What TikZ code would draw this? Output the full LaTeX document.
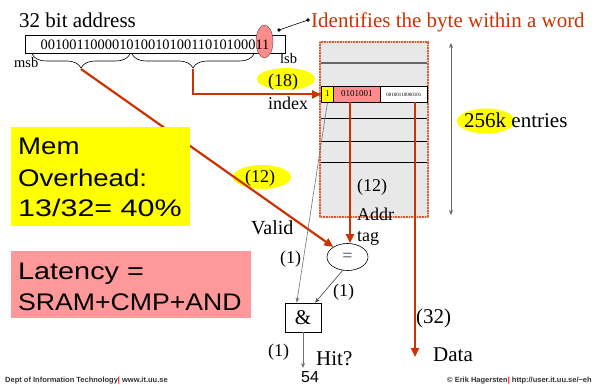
\documentclass[tikz,border=0pt]{standalone}
\usepackage{fontspec}
\setmainfont{Liberation Serif}
\newfontfamily\notefont{Liberation Sans}
\usetikzlibrary{arrows.meta,decorations.pathreplacing,shapes.geometric,calc}

\definecolor{wirered}{RGB}{204,51,0}
\definecolor{hlyellow}{RGB}{255,255,0}
\definecolor{notepink}{RGB}{255,153,153}
\definecolor{cellpink}{RGB}{255,140,140}
\definecolor{tablegray}{RGB}{232,232,232}

\newcommand\sizeL{\fontsize{21}{25}\selectfont}
\newcommand\sizeM{\fontsize{18}{22}\selectfont}
\newcommand\sizeS{\fontsize{14.5}{17}\selectfont}
\newcommand\sizeN{\fontsize{24}{30}\selectfont}
\newcommand\stretched[2]{\scalebox{#1}[1]{#2}}

\begin{document}
\begin{tikzpicture}[x=1pt,y=-1pt,
  txt/.style={anchor=base west,inner sep=0pt},
  hl/.style={ellipse,fill=hlyellow,inner sep=0pt},
  wire/.style={draw=wirered,line width=2.2pt},
  wiretip/.style={wire,-{Triangle[length=9pt,width=8pt]}},
  thinarrow/.style={draw=black!75,line width=0.6pt,-{Stealth[length=5pt,width=4pt]}},
  cell/.style={draw=black,line width=0.8pt,anchor=north west,inner sep=0pt,minimum height=16,text height=5pt},
  bracedown/.style={decorate,decoration={brace,mirror,amplitude=14pt},line width=0.6pt}]

\useasboundingbox (0,0) rectangle (611,385);
\fill[white] (0,0) rectangle (611,385);

% ---- address register ----
\node[txt,font=\sizeL] (addrtitle) at (19,28) {32 bit address};
\node[draw,line width=0.6pt,anchor=north west,minimum width=260,minimum height=18,inner sep=0pt] (addrbox) at (25,35) {};
\node[ellipse,draw=black!70,fill=cellpink,minimum width=17,minimum height=33,inner sep=0pt] (lsbmark) at (264.5,41.5) {};
\node[anchor=base,inner sep=0pt,font=\fontsize{14.4}{17}\selectfont] (bits) at (155,50) {00100110000101001010011010100011};
\node[txt,font=\sizeS] (msb) at (14,68) {msb};
\node[txt,font=\sizeS] (lsb) at (280,64) {lsb};

% field braces
\draw[bracedown] (32,54) -- (130,54);
\draw[bracedown] (132,54) -- (254,54);
\coordinate (tagtip) at (81,69);
\coordinate (idxtip) at (193,69);

% byte offset note
\node[txt,font=\sizeL,text=wirered] (bytenote) at (311,28) {Identifies the byte within a word};
\coordinate (markdot) at (279,30);
\coordinate (notedot) at (308,20);
\draw[line width=0.6pt] (markdot) -- (notedot);
\fill (markdot) circle (1.8);
\fill (notedot) circle (1.8);

% ---- tag memory ----
\fill[tablegray] (320,42) rectangle (428,217);
\draw[line width=2.6pt,draw=wirered!30] (320,42) rectangle (428,217);
\draw[line width=2.6pt,draw=wirered!80,dash pattern=on 0.6pt off 1pt] (320,42) rectangle (428,217);
\draw[line width=1.6pt,draw=black!60] (321,63) -- (427,63);
\foreach \ry in {118,141,162} \draw[line width=0.8pt] (321,\ry) -- (427,\ry);

\node[cell,fill=hlyellow,minimum width=12,font=\fontsize{9}{10}\selectfont] (validcell) at (321,86) {1};
\node[cell,fill=cellpink,minimum width=47,font=\fontsize{9}{10}\selectfont] (tagcell) at (333,86) {0101001};
\node[cell,fill=white,minimum width=47,font=\fontsize{5}{6}\selectfont] (datacell) at (380,86) {00100110000101};

% entries dimension
\coordinate (rowtop) at (451,43);
\coordinate (rowbot) at (451,215);
\draw[draw=black!60,line width=0.8pt,{Stealth[length=5pt,width=4pt]}-{Stealth[length=5pt,width=4pt]}] (rowtop) -- (rowbot);
\node[hl,minimum width=58,minimum height=25] (enthl) at (486,121) {};
\node[txt,font=\sizeL] (entries) at (464,128) {256k entries};

% index path
\node[hl,minimum width=58,minimum height=22] (idxhl) at (286,79) {};
\node[txt,font=\sizeM] (idxbits) at (268,87) {(18)};
\node[txt,font=\sizeM] (idxlabel) at (268,110) {index};
\draw[wiretip] (idxtip) |- (validcell.west);

% ---- compare and hit logic ----
\node[ellipse,draw,line width=0.6pt,minimum width=41,minimum height=27,inner sep=0pt,font=\sizeM,text=black!75] (eq) at (347.5,257) {=};
\node[draw,line width=0.8pt,minimum width=36,minimum height=29,inner sep=0pt,font=\sizeL] (andbox) at (303,317.5) {\&};

\node[hl,minimum width=58,minimum height=24] (taghl) at (262,177) {};
\node[txt,font=\sizeM] (tagbits) at (245,183) {(12)};
\draw[wiretip] (tagtip) -- (eq);

% memory notes
\node[fill=hlyellow,anchor=north west,minimum width=179,minimum height=99,inner sep=0pt] (memnote) at (11,127) {};
\node[txt,font=\notefont\sizeN] (memA) at (18,155) {\stretched{1.15}{Mem}};
\node[txt,font=\notefont\sizeN] (memB) at (18,186) {\stretched{1.15}{Overhead:}};
\node[txt,font=\notefont\sizeN] (memC) at (18,216) {\stretched{1.27}{13/32= 40\%}};

\node[fill=notepink,anchor=north west,minimum width=240,minimum height=67,inner sep=0pt] (latnote) at (11,251) {};
\node[txt,font=\notefont\sizeN] (latA) at (18,279) {\stretched{1.2}{Latency =}};
\node[txt,font=\notefont\sizeN] (latB) at (18,310) {\stretched{1.11}{SRAM+CMP+AND}};

% tag and data outputs
\coordinate (tagout) at (350,102);
\draw[wiretip] (tagout) -- (eq.north -| tagout);
\coordinate (dataout) at (415,102);
\coordinate (dataend) at (415,357);
\draw[wiretip] (dataout) -- (dataend);

\draw[thinarrow,draw=black!55] (validcell.south) -- ($(andbox.north west)!0.33!(andbox.north east)$);
\draw[thinarrow] (eq.-110) -- ($(andbox.north west)!0.83!(andbox.north east)$);
\coordinate (hitend) at (303,368);
\draw[thinarrow,draw=black!55] (andbox.south) -- (hitend);

% labels
\node[txt,font=\sizeM] (addrbits) at (357,192) {(12)};
\node[txt,font=\sizeM] (addrlbl) at (357,221) {Addr};
\node[txt,font=\sizeM] (taglbl) at (357,241) {tag};
\node[txt,font=\fontsize{20}{24}\selectfont] (validlbl) at (251,234) {Valid};
\node[txt,font=\sizeM] (validbits) at (280,263) {(1)};
\node[txt,font=\sizeM] (eqbits) at (333,296) {(1)};
\node[txt,font=\sizeM] (hitbits) at (268,356) {(1)};
\node[txt,font=\sizeL] (hitlbl) at (316,365) {Hit?};
\node[txt,font=\sizeL] (databits) at (416,323) {(32)};
\node[txt,font=\sizeL] (datalbl) at (433,361) {Data};

% page footer
\node[txt,font=\notefont\fontsize{16}{18}\selectfont] (pagenum) at (301,382) {54};
\node[txt,font=\notefont\bfseries\fontsize{7.5}{9}\selectfont,text=black!80] (footL) at (5,382) {Dept of Information Technology{\color{red}|} www.it.uu.se};
\node[txt,font=\notefont\bfseries\fontsize{7.5}{9}\selectfont,text=black!80] (footR) at (447,382) {\textcopyright{} Erik Hagersten{\color{red}|} http://user.it.uu.se/\textasciitilde eh};
\end{tikzpicture}
\end{document}
